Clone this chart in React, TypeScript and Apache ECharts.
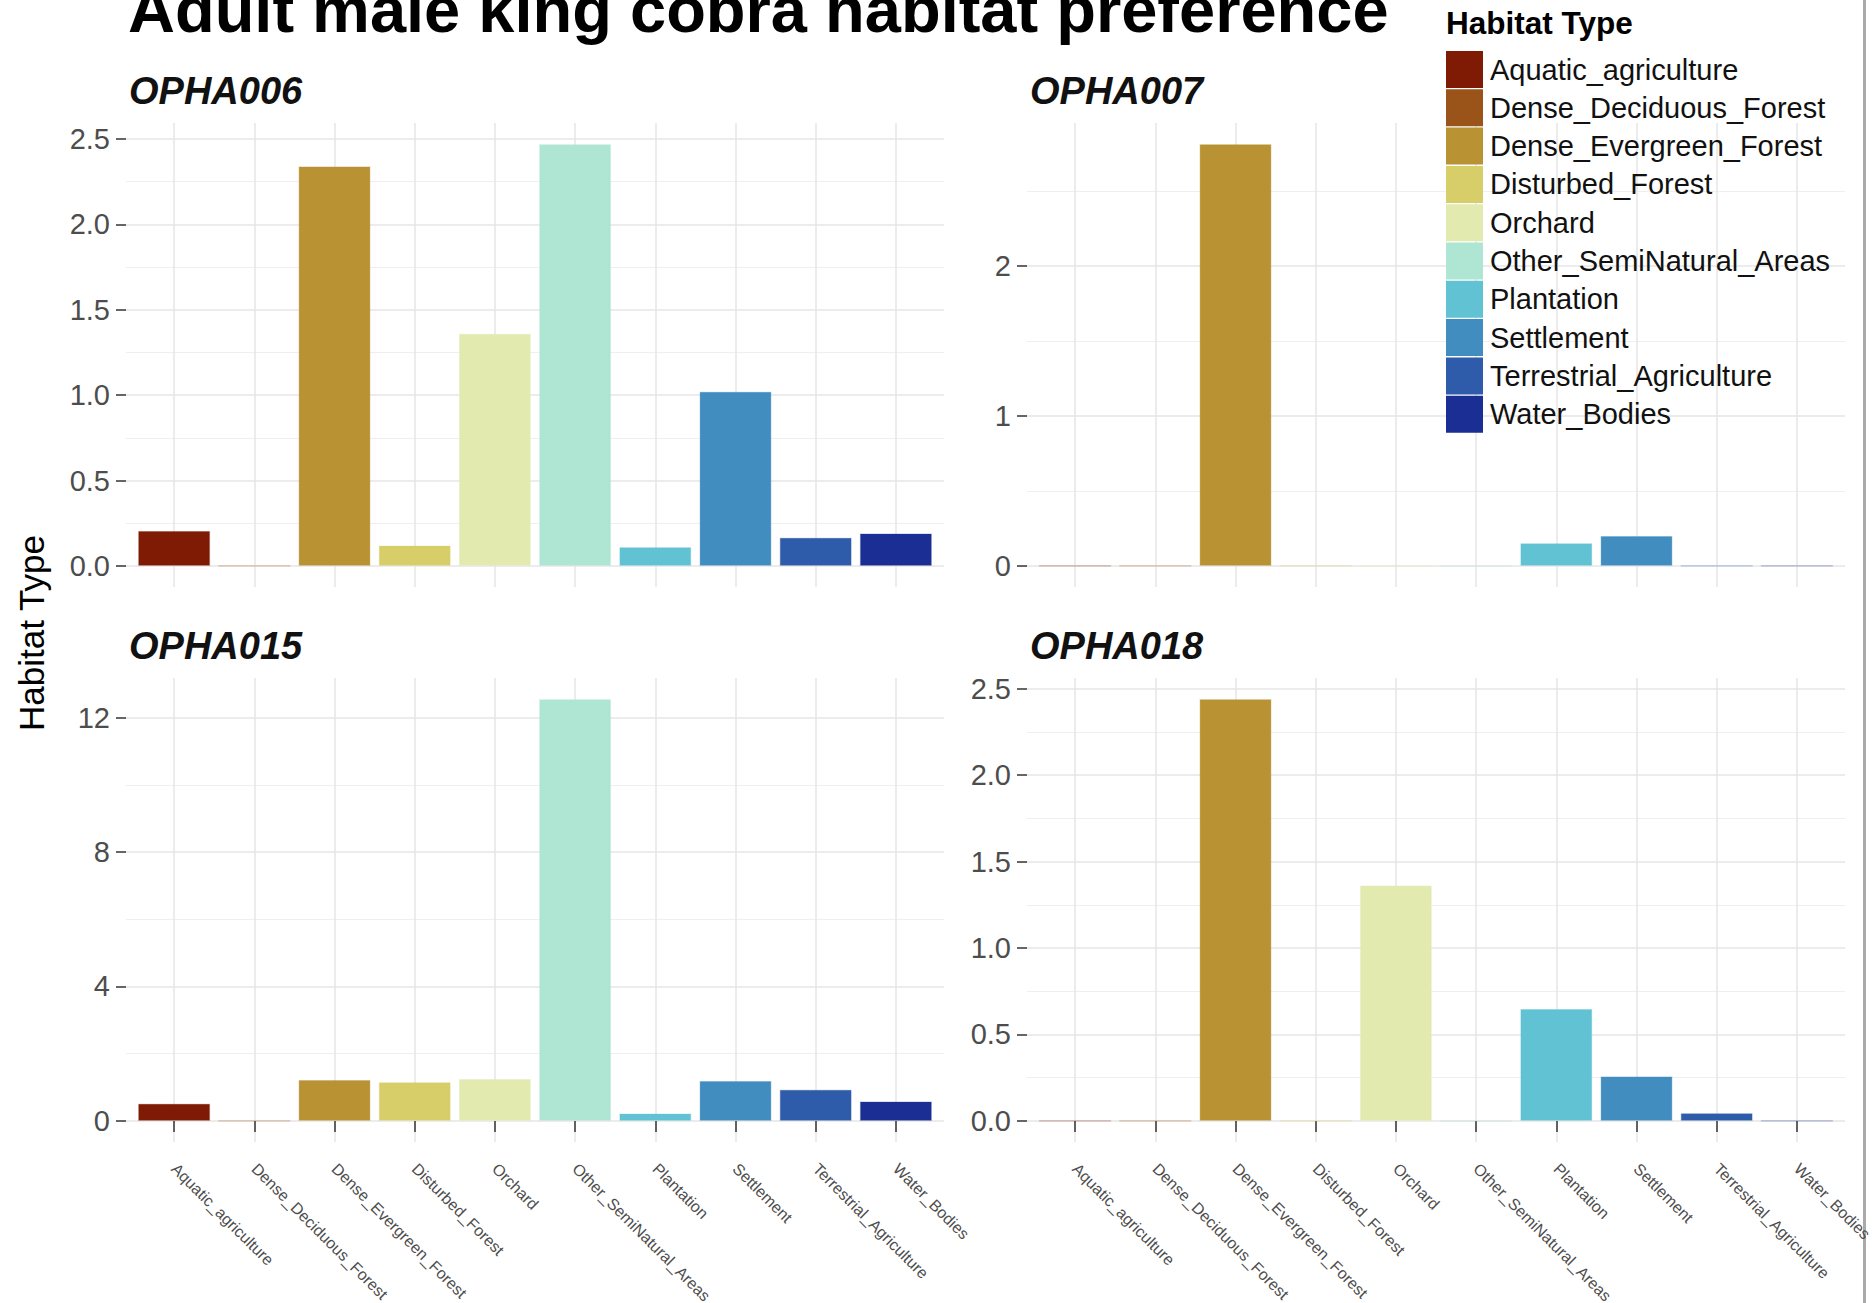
import React, { useEffect, useRef } from 'react';
import * as echarts from 'echarts';

const categories = [
  'Aquatic_agriculture',
  'Dense_Deciduous_Forest',
  'Dense_Evergreen_Forest',
  'Disturbed_Forest',
  'Orchard',
  'Other_SemiNatural_Areas',
  'Plantation',
  'Settlement',
  'Terrestrial_Agriculture',
  'Water_Bodies',
];

const colors = [
  '#7F1A04',
  '#9A5319',
  '#B89233',
  '#D8CE69',
  '#E2EAB0',
  '#AEE6D3',
  '#60C2D3',
  '#428DC0',
  '#2E5CAA',
  '#1B2E93',
];

const panelNames = ['OPHA006', 'OPHA007', 'OPHA015', 'OPHA018'];

const opha006 = [0.205, 0, 2.34, 0.12, 1.36, 2.47, 0.11, 1.02, 0.165, 0.19];
const opha007 = [0, 0, 2.815, 0, 0, 0, 0.152, 0.2, 0, 0];
const opha015 = [0.51, 0, 1.22, 1.15, 1.25, 12.55, 0.22, 1.19, 0.93, 0.58];
const opha018 = [0, 0, 2.44, 0, 1.363, 0, 0.648, 0.258, 0.045, 0];

const ticks006 = ['0.0', '0.5', '1.0', '1.5', '2.0', '2.5'];
const ticks007 = ['0', '1', '2'];
const ticks015 = ['0', '4', '8', '12'];
const ticks018 = ['0.0', '0.5', '1.0', '1.5', '2.0', '2.5'];

const chartTitle = 'Adult male king cobra habitat preference';
const yTitle = 'Habitat Type';
const legendTitle = 'Habitat Type';

const W = 1874;
const H = 1303;
const FONT = '"Liberation Sans", Arial, Helvetica, sans-serif';

const panelValues = [opha006, opha007, opha015, opha018];
const panelTicks = [ticks006, ticks007, ticks015, ticks018];
const panelLayout = [
  { left: 126, top: 123, showX: false },
  { left: 1027, top: 123, showX: false },
  { left: 126, top: 678, showX: true },
  { left: 1027, top: 678, showX: true },
];
const PW = 818;
const PH = 464;

function withAlpha(hex: string, a: number) {
  const r = parseInt(hex.slice(1, 3), 16);
  const g = parseInt(hex.slice(3, 5), 16);
  const b = parseInt(hex.slice(5, 7), 16);
  return `rgba(${r},${g},${b},${a})`;
}

function buildOption() {
  const positions = categories.map((_, i) => i + 1);
  const grids: any[] = [];
  const xAxes: any[] = [];
  const yAxes: any[] = [];
  const series: any[] = [];
  const graphics: any[] = [];

  panelLayout.forEach((lay, i) => {
    const values = panelValues[i];
    const ticks = panelTicks[i];
    const maxV = Math.max(...values);
    const ymin = -0.05 * maxV;
    const ymax = 1.05 * maxV;
    const tickVals = ticks.map(Number);
    const step = tickVals[1] - tickVals[0];
    const minorVals: number[] = [];
    tickVals.forEach((t) => {
      const m = t + step / 2;
      if (m < ymax) minorVals.push(m);
    });

    grids.push({
      left: lay.left,
      top: lay.top,
      width: PW,
      height: PH,
      containLabel: false,
      outerBoundsMode: 'none',
    });

    xAxes.push({
      type: 'value',
      gridIndex: i,
      min: 0.4,
      max: 10.6,
      axisLine: { show: false },
      axisTick: {
        show: lay.showX,
        customValues: positions,
        length: 11,
        lineStyle: { color: '#333333', width: 1.5 },
      },
      axisLabel: {
        show: lay.showX,
        customValues: positions,
        rotate: -45,
        margin: 24,
        fontSize: 16,
        color: '#4d4d4d',
        fontFamily: FONT,
        hideOverlap: false,
        formatter: (v: number) => categories[Math.round(v) - 1] ?? '',
      },
      splitLine: { show: true, lineStyle: { color: '#e6e6e6', width: 1.5 } },
    });

    yAxes.push({
      type: 'value',
      gridIndex: i,
      min: ymin,
      max: ymax,
      position: 'left',
      axisLine: { show: false },
      axisTick: {
        show: true,
        customValues: tickVals,
        length: 10,
        lineStyle: { color: '#333333', width: 1.5 },
      },
      axisLabel: {
        show: true,
        customValues: tickVals,
        fontSize: 29,
        color: '#4d4d4d',
        fontFamily: FONT,
        margin: 16,
        formatter: (v: number) => {
          const k = tickVals.findIndex((t) => Math.abs(t - v) < 1e-9);
          return k >= 0 ? ticks[k] : '';
        },
      },
      splitLine: { show: true, lineStyle: { color: '#e6e6e6', width: 1.5 } },
    });

    yAxes.push({
      type: 'value',
      gridIndex: i,
      min: ymin,
      max: ymax,
      position: 'left',
      axisLine: { show: false },
      axisTick: { show: false, customValues: minorVals },
      axisLabel: { show: false, customValues: minorVals },
      splitLine: { show: true, lineStyle: { color: '#efefef', width: 1.2 } },
    });

    categories.forEach((cat, c) => {
      series.push({
        type: 'bar',
        name: cat,
        xAxisIndex: i,
        yAxisIndex: 2 * i,
        data: [[c + 1, values[c]]],
        barWidth: 72,
        barGap: '-100%',
        silent: true,
        emphasis: { disabled: true },
        itemStyle: {
          color: colors[c],
          borderColor: withAlpha(colors[c], 0.3),
          borderWidth: 1.2,
        },
      });
    });

    graphics.push({
      type: 'text',
      x: lay.left + 3,
      y: lay.top - 20 - 0.31 * 38,
      silent: true,
      style: {
        text: panelNames[i],
        fontSize: 38,
        fontWeight: 'bold',
        fontStyle: 'italic',
        fontFamily: FONT,
        fill: '#111111',
        align: 'left',
        verticalAlign: 'middle',
      },
    });
  });

  graphics.push({
    type: 'text',
    x: 128,
    y: 30 - 0.31 * 65,
    silent: true,
    style: {
      text: chartTitle,
      fontSize: 65,
      fontWeight: 'bold',
      fontFamily: FONT,
      fill: '#000000',
      align: 'left',
      verticalAlign: 'middle',
    },
  });

  graphics.push({
    type: 'text',
    x: 31,
    y: 633,
    rotation: Math.PI / 2,
    silent: true,
    style: {
      text: yTitle,
      fontSize: 35,
      fontFamily: FONT,
      fill: '#000000',
      align: 'center',
      verticalAlign: 'middle',
    },
  });

  graphics.push({
    type: 'text',
    x: 1446,
    y: 33 - 0.31 * 31.5,
    silent: true,
    style: {
      text: legendTitle,
      fontSize: 31.5,
      fontWeight: 'bold',
      fontFamily: FONT,
      fill: '#000000',
      align: 'left',
      verticalAlign: 'middle',
    },
  });

  graphics.push({
    type: 'rect',
    shape: { x: 1863, y: 0, width: 3, height: H },
    silent: true,
    style: { fill: '#a9a9a9' },
  });

  return {
    animation: false,
    backgroundColor: '#ffffff',
    grid: grids,
    xAxis: xAxes,
    yAxis: yAxes,
    series,
    legend: {
      orient: 'vertical',
      left: 1446,
      top: 51,
      padding: 0,
      itemWidth: 37,
      itemHeight: 37,
      itemGap: 1.3,
      icon: 'rect',
      selectedMode: false,
      data: categories,
      itemStyle: { borderWidth: 0 },
      textStyle: {
        fontSize: 29,
        color: '#111111',
        fontFamily: FONT,
        padding: [0, 0, 0, 2],
      },
    },
    graphic: graphics,
  };
}

export default function App() {
  const ref = useRef<HTMLDivElement>(null);
  useEffect(() => {
    if (!ref.current) return;
    const chart = echarts.init(ref.current, undefined, { renderer: 'svg' });
    chart.setOption(buildOption() as any);
    return () => {
      chart.dispose();
    };
  }, []);
  return (
    <div
      ref={ref}
      style={{ position: 'absolute', left: 0, top: 0, width: W, height: H, background: '#fff' }}
    />
  );
}
